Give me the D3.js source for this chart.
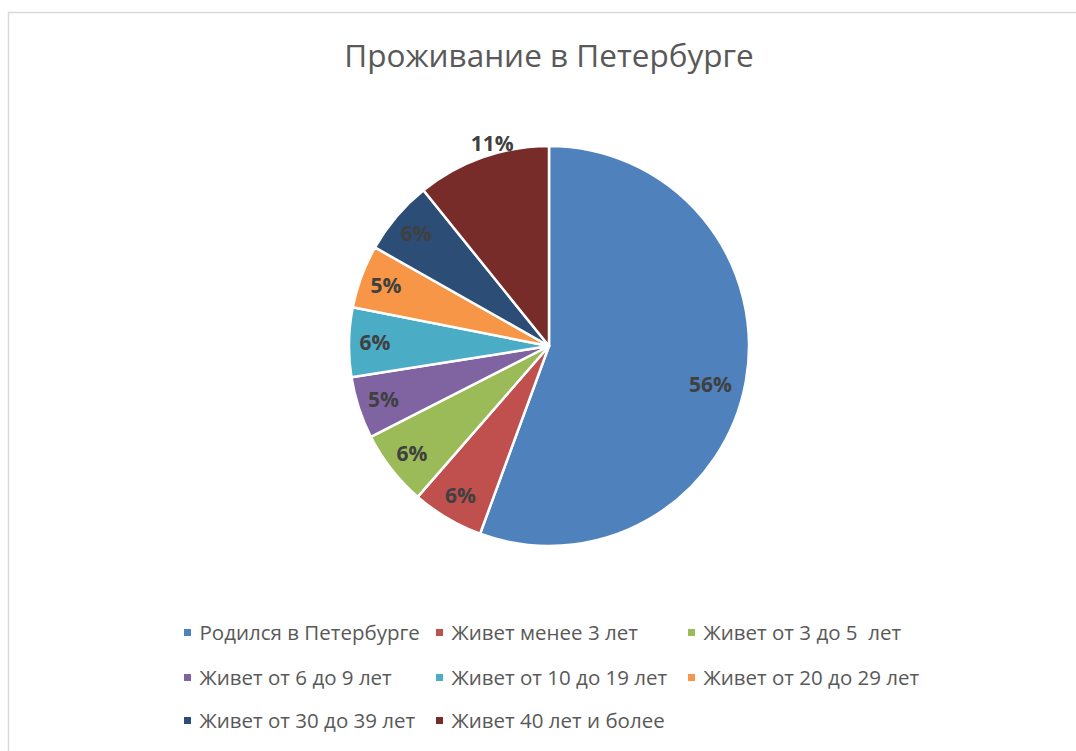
<!DOCTYPE html>
<html>
<head>
<meta charset="utf-8">
<script src="https://cdn.jsdelivr.net/npm/d3@7/dist/d3.min.js"></script>
<style>
  body { margin: 0; background: #fff; }
  svg { display: block; }
</style>
</head>
<body>
<svg id="chart"></svg>
<script>
// data
let categories = [
    "Родился в Петербурге",
    "Живет менее 3 лет",
    "Живет от 3 до 5  лет",
    "Живет от 6 до 9 лет",
    "Живет от 10 до 19 лет",
    "Живет от 20 до 29 лет",
    "Живет от 30 до 39 лет",
    "Живет 40 лет и более"
];
let shares = [55.6, 5.8, 6.1, 5.0, 5.6, 5.1, 6.0, 10.8];
let colors = ["#4F81BD", "#C0504D", "#9BBB59", "#8064A2", "#4BACC6", "#F79646", "#2C4D75", "#772C2A"];
let title = "Проживание в Петербурге";

let width = 1076, height = 751;
let config = {
    cx: 549,
    cy: 346,
    radius: 200,
    font: "'Open Sans', 'DejaVu Sans', sans-serif"
};

let svg = d3.select("#chart")
    .attr("width", width)
    .attr("height", height);

// chart area border
svg.append("rect")
    .attr("x", 8.5)
    .attr("y", 12.5)
    .attr("width", 1080)
    .attr("height", 780)
    .attr("fill", "#fff")
    .attr("stroke", "#d9d9d9")
    .attr("stroke-width", 1.5);

svg.append("text")
    .attr("x", config.cx)
    .attr("y", 67)
    .attr("text-anchor", "middle")
    .attr("font-family", config.font)
    .attr("font-size", 31.5)
    .attr("fill", "#595959")
    .text(title);

let data = categories.map((c, i) => ({name: c, value: shares[i], color: colors[i]}));
let total = d3.sum(shares);

let pie = d3.pie()
    .value(d => d.value)
    .sort(null);
let arc = d3.arc()
    .innerRadius(0)
    .outerRadius(config.radius);

let body = svg.append("g")
    .attr("transform", `translate(${config.cx},${config.cy})`);

let arcs = pie(data);

body.selectAll(".slice")
    .data(arcs)
    .enter()
    .append("path")
    .attr("class", "slice")
    .attr("d", arc)
    .attr("fill", d => d.data.color)
    .attr("stroke", "#fff")
    .attr("stroke-width", 2.5)
    .attr("stroke-linejoin", "round");

// labels: inside for most slices, the last one sits outside like Excel's best fit
let fmt = d3.format(".0%");
let labelRadius = function (d, i) {
    if (i === 0) return 0.82 * config.radius;
    if (i === arcs.length - 1) return 1.05 * config.radius;
    return 0.87 * config.radius;
};
body.selectAll(".label")
    .data(arcs)
    .enter()
    .append("text")
    .attr("class", "label")
    .attr("transform", (d, i) => {
        let r = labelRadius(d, i);
        let c = d3.arc().innerRadius(r).outerRadius(r).centroid(d);
        if (i === 0) c[1] += 10;
        if (i === arcs.length - 1) { c[0] += 13; c[1] -= 5; }
        return `translate(${c[0]},${c[1]})`;
    })
    .attr("text-anchor", "middle")
    .attr("dy", "0.36em")
    .attr("font-family", config.font)
    .attr("font-weight", "bold")
    .attr("font-size", 21)
    .attr("fill", "#404040")
    .text(d => fmt(d.data.value / total));

// legend, three columns
let legendX = [187.5, 439.5, 691.5];
let legendY = [632.5, 677.5, 720.5];
let legend = svg.append("g");
let items = legend.selectAll(".item")
    .data(data)
    .enter()
    .append("g")
    .attr("class", "item")
    .attr("transform", (d, i) => `translate(${legendX[i % 3]},${legendY[Math.floor(i / 3)]})`);
items.append("rect")
    .attr("x", -3.5)
    .attr("y", -3.5)
    .attr("width", 7)
    .attr("height", 7)
    .attr("fill", d => d.color);
items.append("text")
    .attr("x", 12)
    .attr("y", 7.5)
    .attr("font-family", config.font)
    .attr("font-size", 20.5)
    .attr("fill", "#595959")
    .attr("xml:space", "preserve")
    .style("white-space", "pre")
    .text(d => d.name);
</script>
</body>
</html>
